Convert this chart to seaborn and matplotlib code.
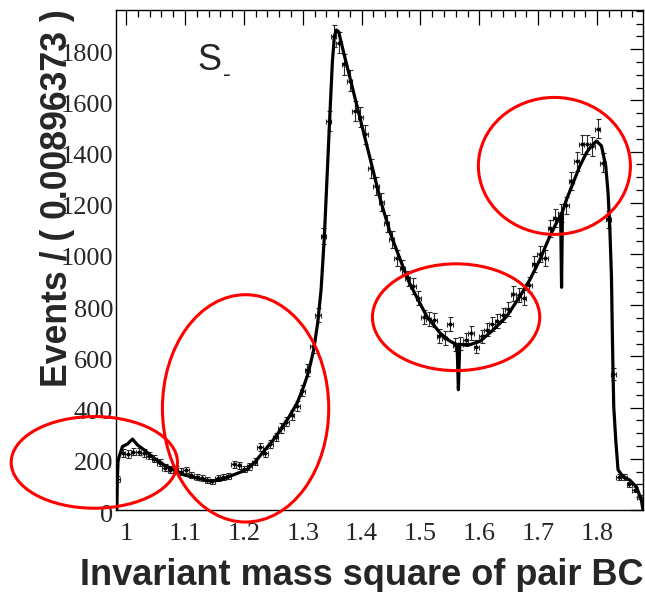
import numpy as np
import pandas as pd
import matplotlib
matplotlib.use("Agg")
import matplotlib.pyplot as plt
import matplotlib.transforms as mtransforms
from matplotlib.patches import Ellipse
from matplotlib.ticker import FixedLocator, FixedFormatter, MultipleLocator
import seaborn as sns

# ---------------- data ----------------
BIN_WIDTH = 0.00896373
BIN_START = 0.9808

counts = [120, 222, 218, 228, 228, 222, 212, 200, 185, 165,
          158, 160, 150, 157, 135, 128, 124, 118, 112, 125,
          128, 132, 178, 175, 160, 170, 189, 245, 222, 258,
          285, 320, 345, 372, 405, 465, 545, 640, 760, 1070,
          1520, 1850, 1826, 1741, 1676, 1560, 1535, 1467, 1335, 1265,
          1203, 1120, 1057, 985, 945, 905, 875, 828, 755, 745,
          741, 680, 672, 728, 645, 650, 665, 691, 637, 678,
          705, 725, 737, 760, 785, 845, 840, 830, 880, 960,
          1000, 985, 1100, 1140, 1160, 1190, 1285, 1363, 1428, 1428,
          1420, 1490, 1357, 1135, 531, 130, 128, 100, 80, 50]

fit_x = [0.98424, 0.98508, 0.98627, 0.98814, 0.99390, 1.00237, 1.01085, 1.01932,
         1.03051, 1.04746, 1.06441, 1.08136, 1.09831, 1.12102, 1.14356, 1.16051,
         1.17746, 1.19441, 1.20627, 1.21983, 1.23390, 1.24864, 1.26220, 1.27576,
         1.29051, 1.30119, 1.30746, 1.31305, 1.31864, 1.32542, 1.33119, 1.33678,
         1.34576, 1.35034, 1.35373, 1.35712, 1.36102, 1.36949, 1.38373, 1.39780,
         1.41475, 1.43169, 1.44864, 1.46559, 1.47966, 1.49390, 1.51085, 1.53339,
         1.55034, 1.56220, 1.56441, 1.56661, 1.58424, 1.60119, 1.62373, 1.64644,
         1.66898, 1.68593, 1.70288, 1.71983, 1.73390, 1.73814, 1.73966, 1.74119,
         1.74814, 1.75932, 1.77068, 1.78203, 1.79051, 1.79898, 1.80746, 1.81475,
         1.81864, 1.82153, 1.82441, 1.82610, 1.82712, 1.82831, 1.83169, 1.83559,
         1.84407, 1.85542, 1.86678, 1.87525, 1.87797]
fit_y = [0, 120, 190, 209, 248, 258, 277, 254,
         235, 202, 176, 157, 137, 124, 113, 117,
         133, 148, 160, 190, 230, 270, 313, 360,
         418, 480, 522, 570, 626, 731, 861, 1070,
         1526, 1750, 1850, 1875, 1868, 1787, 1656, 1526,
         1370, 1213, 1082, 978, 895, 830, 756, 691,
         659, 646, 470, 646, 646, 659, 704, 756,
         835, 900, 978, 1070, 1135, 1150, 870, 1165,
         1213, 1278, 1343, 1396, 1422, 1441, 1422, 1343,
         1239, 1108, 913, 665, 535, 404, 274, 157,
         130, 117, 91, 39, 0]

xtick_values = [1.0, 1.1, 1.2, 1.3, 1.4, 1.5, 1.6, 1.7, 1.8]
xtick_labels = ["1", "1.1", "1.2", "1.3", "1.4", "1.5", "1.6", "1.7", "1.8"]
ytick_values = [0, 200, 400, 600, 800, 1000, 1200, 1400, 1600, 1800]
ytick_labels = ["0", "200", "400", "600", "800", "1000", "1200", "1400", "1600", "1800"]

x_label = "Invariant mass square of pair BC"
y_label = "Events / ( 0.00896373 )"

# annotation ellipses (centre x, centre y, width, height) in data units
ellipses = [(0.9460, 186, 0.2825, 358),
            (1.2029, 397, 0.2825, 888),
            (1.5605, 753, 0.2842, 417),
            (1.7275, 1344, 0.2583, 535)]

# ---------------- plot ----------------
sns.set_style("white")
plt.rcParams["font.family"] = ["Liberation Sans", "DejaVu Sans"]

fig = plt.figure(figsize=(6.45, 5.92), dpi=100)
ax = fig.add_axes([116 / 645, 82 / 592, 527 / 645, 500 / 592])

centers = BIN_START + (np.arange(len(counts)) + 0.5) * BIN_WIDTH
df = pd.DataFrame({"x": centers, "y": counts})
df["err"] = np.sqrt(df["y"])
fit = pd.DataFrame({"x": fit_x, "y": fit_y})

ax.errorbar(df["x"], df["y"], yerr=df["err"], xerr=BIN_WIDTH / 2, fmt="none",
            ecolor="#2a2a2a", elinewidth=0.8, capsize=1.8, capthick=0.8, zorder=2)
sns.scatterplot(data=df, x="x", y="y", ax=ax, color="black", s=8, marker="o",
                linewidth=0, zorder=3, legend=False)
sns.lineplot(data=fit, x="x", y="y", ax=ax, color="black", linewidth=2.3,
             estimator=None, sort=False, zorder=4, legend=False)

for cx, cy, w, h in ellipses:
    ax.add_patch(Ellipse((cx, cy), w, h, fill=False, edgecolor="#ff0000",
                         linewidth=2.2, clip_on=False, zorder=6))

ax.set_xlim(0.9828, 1.8780)
ax.set_ylim(0, 1953)

ax.xaxis.set_major_locator(FixedLocator(xtick_values))
ax.xaxis.set_major_formatter(FixedFormatter(xtick_labels))
ax.xaxis.set_minor_locator(MultipleLocator(0.02))
ax.yaxis.set_major_locator(FixedLocator(ytick_values))
ax.yaxis.set_major_formatter(FixedFormatter(ytick_labels))
ax.yaxis.set_minor_locator(MultipleLocator(50))

ax.tick_params(axis="both", which="both", direction="in", top=True, right=True,
               color="black", width=0.9)
ax.tick_params(axis="x", which="major", length=11, pad=9)
ax.tick_params(axis="x", which="minor", length=5.3)
ax.tick_params(axis="y", which="major", length=9.5, pad=2)
ax.tick_params(axis="y", which="minor", length=5.3)

for lab in ax.get_xticklabels() + ax.get_yticklabels():
    lab.set_fontfamily(["Liberation Serif", "DejaVu Serif"])
    lab.set_fontsize(19)
offset = mtransforms.ScaledTranslation(0, -3 / 100, fig.dpi_scale_trans)
for lab in ax.get_yticklabels():
    lab.set_transform(lab.get_transform() + offset)

for sp in ax.spines.values():
    sp.set_color("black")
    sp.set_linewidth(1.0)

ax.set_xlabel("")
ax.set_ylabel("")

fig.text(643 / 645, 7 / 592, x_label, ha="right", va="baseline",
         fontsize=26, fontweight="bold")
fig.text(67 / 645, 1 - 9 / 592, y_label, rotation=90, rotation_mode="anchor",
         ha="right", va="baseline", fontsize=25.7, fontweight="bold", zorder=10)

fig.text(197 / 645, 1 - 70 / 592, "S", ha="left", va="baseline", fontsize=26)
fig.text(223 / 645, 1 - 81 / 592, "-", ha="left", va="baseline", fontsize=17)

fig.savefig("out.png", dpi=100)
